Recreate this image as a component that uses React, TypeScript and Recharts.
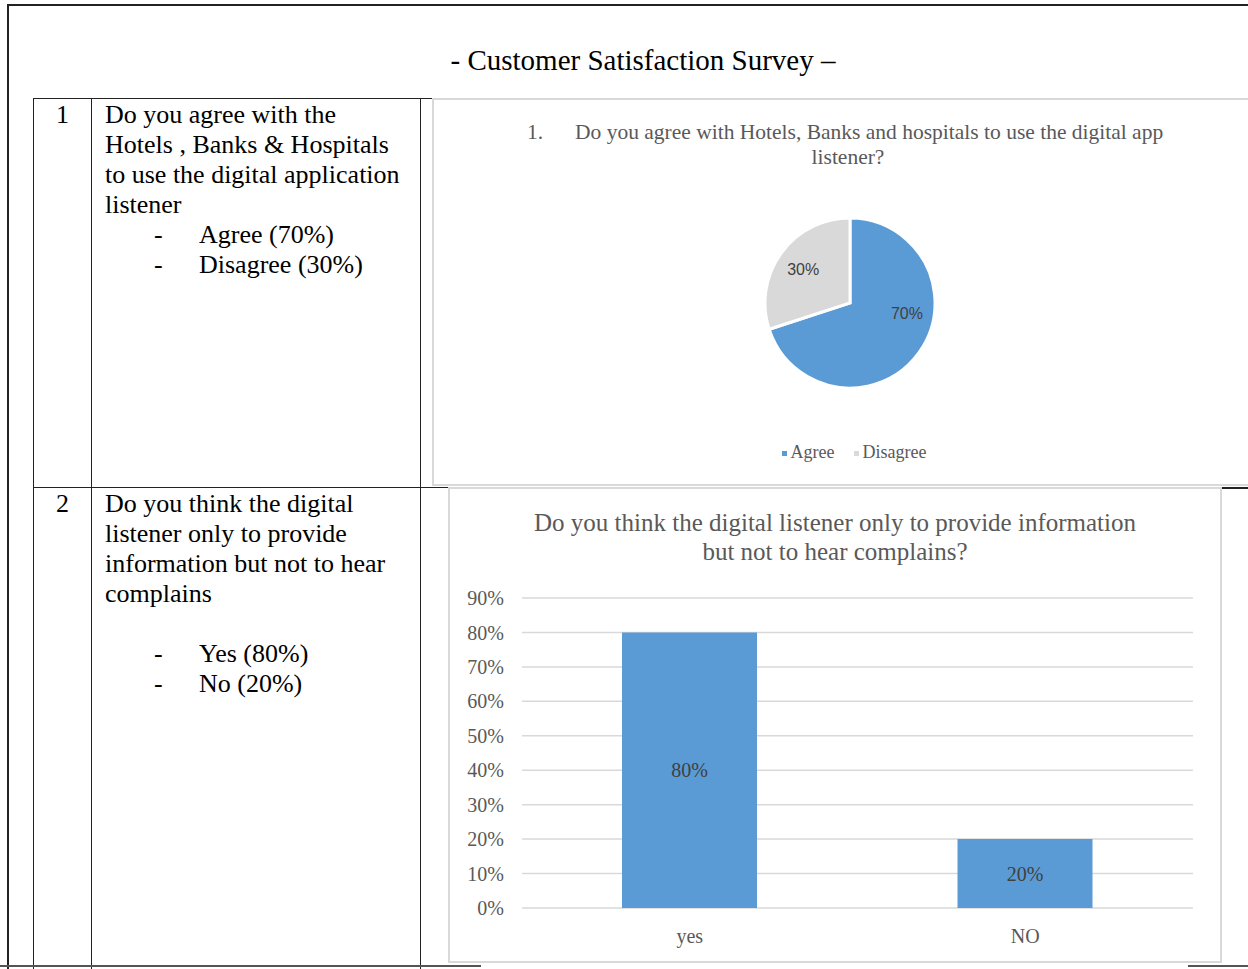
import { PieChart, Pie, Cell, BarChart, Bar, XAxis, YAxis, CartesianGrid, LabelList, Legend } from 'recharts';

// survey question 1 (pie)
const pieCategories = ['Agree', 'Disagree'];
const pieValues = [70, 30];
const pieColors = ['#5b9bd5', '#d9d9d9'];

// survey question 2 (bar)
const barCategories = ['yes', 'NO'];
const barValues = [80, 20];
const yTicks = [0, 10, 20, 30, 40, 50, 60, 70, 80, 90];

const SERIF = '"Liberation Serif", "Times New Roman", serif';
const SANS = '"Liberation Sans", Arial, sans-serif';
const RAD = Math.PI / 180;

const pieData = pieCategories.map((name, i) => ({ name, value: pieValues[i] }));
const barData = barCategories.map((name, i) => ({ name, value: barValues[i] }));

const renderPieLabel = (props: any) => {
    const { cx, cy, midAngle, outerRadius, value, index } = props;
    // Excel's best fit pushes the big slice's label up a bit
    const angle = index === 0 ? midAngle + 26 : midAngle;
    const r = outerRadius * 0.68;
    const x = cx + r * Math.cos(-angle * RAD);
    const y = cy + r * Math.sin(-angle * RAD);
    return (
        <text x={x} y={y} fill="#404040" fontSize={16} fontFamily={SANS} textAnchor="middle" dominantBaseline="central">
            {`${value}%`}
        </text>
    );
};

const renderLegend = () => (
    <div style={{ textAlign: 'center', fontFamily: SERIF, fontSize: 18, color: '#595959' }}>
        {pieCategories.map((name, i) => (
            <span key={name} style={{ display: 'inline-block', marginRight: i === 0 ? 19 : 0 }}>
                <span style={{ display: 'inline-block', width: 5, height: 5, background: pieColors[i], marginRight: 4, verticalAlign: 'middle' }} />
                {name}
            </span>
        ))}
    </div>
);

const line = (left: number, top: number, width: number, height: number, color: string) => (
    <div style={{ position: 'absolute', left, top, width, height, background: color }} />
);

const textLine = (left: number, top: number, text: string, size: number, extra: any = {}) => (
    <div style={{ position: 'absolute', left, top, fontSize: size, lineHeight: '30px', whiteSpace: 'nowrap', ...extra }}>{text}</div>
);

export default function App() {
    const q1 = ['Do you agree with the', 'Hotels , Banks & Hospitals', 'to use the digital application', 'listener'];
    const q2 = ['Do you think the digital', 'listener only to provide', 'information but not to hear', 'complains'];
    return (
        <div style={{ position: 'absolute', left: 0, top: 0, width: 1248, height: 969, overflow: 'hidden', background: '#fff', fontFamily: SERIF, color: '#000' }}>
            {/* page frame */}
            {line(7, 4, 1241, 2, '#222')}
            {line(7, 4, 2, 965, '#222')}

            <div style={{ position: 'absolute', left: 0, width: 1286, top: 42, textAlign: 'center', fontSize: 29, lineHeight: '36px' }}>
                - Customer Satisfaction Survey –
            </div>

            {/* table lines */}
            {line(33, 98, 400, 1, '#222')}
            {line(33, 98, 1, 871, '#222')}
            {line(91, 98, 1, 871, '#222')}
            {line(420, 98, 1, 871, '#222')}
            {line(33, 487, 415, 1, '#222')}
            {line(1221, 487, 27, 2, '#222')}
            {line(0, 965, 481, 2, '#555')}
            {line(1188, 965, 60, 2, '#555')}

            {/* row 1 text */}
            <div style={{ position: 'absolute', left: 34, width: 57, top: 100, textAlign: 'center', fontSize: 26, lineHeight: '30px' }}>1</div>
            {q1.map((t, i) => textLine(105, 100 + i * 30, t, 26))}
            {textLine(154, 220, '-', 26)}
            {textLine(199, 220, 'Agree (70%)', 26)}
            {textLine(154, 250, '-', 26)}
            {textLine(199, 250, 'Disagree (30%)', 26)}

            {/* row 2 text */}
            <div style={{ position: 'absolute', left: 34, width: 57, top: 489, textAlign: 'center', fontSize: 26, lineHeight: '30px' }}>2</div>
            {q2.map((t, i) => textLine(105, 489 + i * 30, t, 26))}
            {textLine(154, 639, '-', 26)}
            {textLine(199, 639, 'Yes (80%)', 26)}
            {textLine(154, 669, '-', 26)}
            {textLine(199, 669, 'No (20%)', 26)}

            {/* pie chart box */}
            <div style={{ position: 'absolute', left: 432, top: 98, width: 840, height: 388, border: '2px solid #d9d9d9', boxSizing: 'border-box' }} />
            <div style={{ position: 'absolute', left: 527, top: 120, fontSize: 21.5, color: '#595959', whiteSpace: 'nowrap', lineHeight: '24px' }}>1.</div>
            <div style={{ position: 'absolute', left: 575, top: 120, fontSize: 21.5, color: '#595959', whiteSpace: 'nowrap', lineHeight: '24px' }}>
                Do you agree with Hotels, Banks and hospitals to use the digital app
            </div>
            <div style={{ position: 'absolute', left: 648, width: 400, top: 145, textAlign: 'center', fontSize: 21.5, color: '#595959', lineHeight: '24px' }}>
                listener?
            </div>
            <div style={{ position: 'absolute', left: 433, top: 98 }}>
                <PieChart width={842} height={388} margin={{ top: 0, right: 0, bottom: 0, left: 0 }}>
                    <Pie
                        data={pieData}
                        dataKey="value"
                        nameKey="name"
                        cx={417}
                        cy={205}
                        outerRadius={85}
                        startAngle={90}
                        endAngle={-270}
                        stroke="#fff"
                        strokeWidth={3}
                        label={renderPieLabel}
                        labelLine={false}
                        isAnimationActive={false}
                    >
                        {pieData.map((d, i) => (
                            <Cell key={d.name} fill={pieColors[i]} />
                        ))}
                    </Pie>
                    <Legend content={renderLegend} wrapperStyle={{ position: 'absolute', top: 344, left: 0, width: 842 }} />
                </PieChart>
            </div>

            {/* bar chart box */}
            <div style={{ position: 'absolute', left: 448, top: 487, width: 774, height: 476, border: '2px solid #d9d9d9', boxSizing: 'border-box', background: '#fff' }} />
            <div style={{ position: 'absolute', left: 435, width: 800, top: 508, textAlign: 'center', fontSize: 25, color: '#595959', lineHeight: '29px' }}>
                Do you think the digital listener only to provide information
                <br />
                but not to hear complains?
            </div>
            <div style={{ position: 'absolute', left: 449, top: 488 }}>
                <BarChart width={772} height={474} data={barData} margin={{ top: 110, right: 28, bottom: 24, left: 0 }} barSize={135}>
                    <CartesianGrid vertical={false} stroke="#d9d9d9" strokeWidth={1.5} />
                    <XAxis
                        dataKey="name"
                        axisLine={false}
                        tickLine={false}
                        tickSize={0}
                        tickMargin={21}
                        height={30}
                        tick={{ fill: '#595959', fontSize: 20, fontFamily: SERIF }}
                    />
                    <YAxis
                        width={73}
                        domain={[0, 90]}
                        ticks={yTicks}
                        tickFormatter={(v: number) => `${v}%`}
                        axisLine={false}
                        tickLine={false}
                        tickSize={0}
                        tickMargin={18}
                        tick={{ fill: '#595959', fontSize: 20, fontFamily: SERIF }}
                    />
                    <Bar dataKey="value" fill="#5b9bd5" isAnimationActive={false}>
                        <LabelList dataKey="value" position="center" formatter={(v: any) => `${v}%`} fill="#404040" fontSize={20} fontFamily={SERIF} />
                    </Bar>
                </BarChart>
            </div>
        </div>
    );
}
